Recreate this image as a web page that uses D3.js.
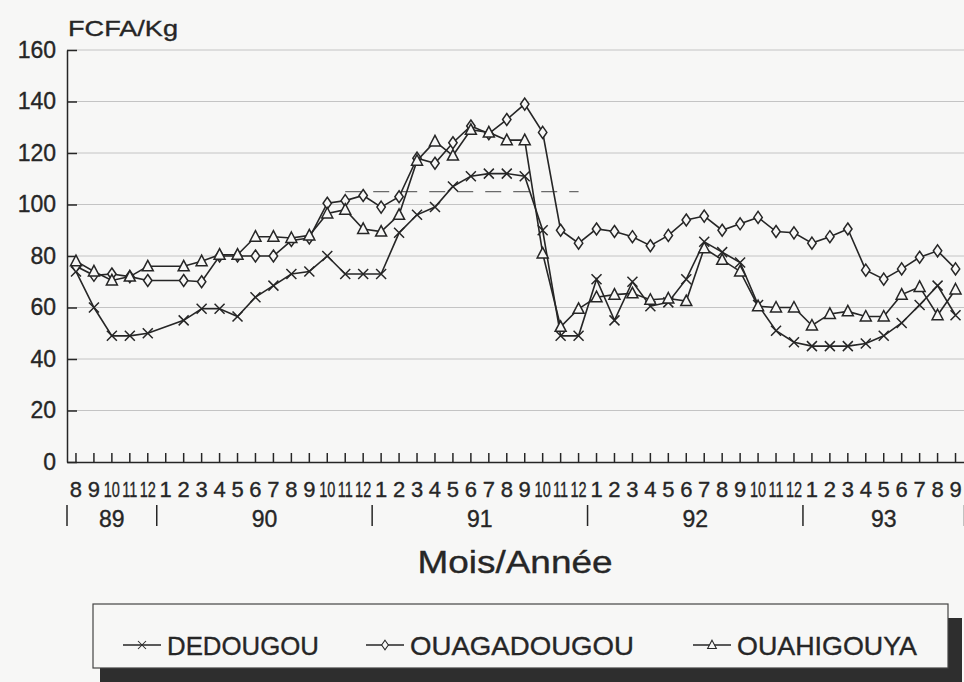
<!DOCTYPE html>
<html>
<head>
<meta charset="utf-8">
<script src="https://cdn.jsdelivr.net/npm/d3@7"></script>
<style>
body { margin: 0; background: #f7f7f6; }
svg { display: block; font-family: "Liberation Sans", Arial, sans-serif; }
svg text { stroke: #262626; stroke-width: 0.35px; }
</style>
</head>
<body>
<svg id="main" width="964" height="682"></svg>
<script>
// months 8/89 .. 9/93, 1/90 is missing in all three series
var monthLabels = ["8","9","10","11","12",
    "1","2","3","4","5","6","7","8","9","10","11","12",
    "1","2","3","4","5","6","7","8","9","10","11","12",
    "1","2","3","4","5","6","7","8","9","10","11","12",
    "1","2","3","4","5","6","7","8","9"];
var yearLabels = ["89", "90", "91", "92", "93"];
var yearLengths = [5, 12, 12, 12, 9];
var yTicks = [0, 20, 40, 60, 80, 100, 120, 140, 160];

var dedougou = [74, 60, 49, 49, 50,
    null, 55, 59.5, 59.5, 56.5, 64, 68.5, 73, 74, 80, 73, 73,
    73, 89, 96, 99, 107, 111, 112, 112, 111, 90, 49, 49,
    71, 55, 70, 60.5, 62, 71, 85.5, 81.5, 77.5, 61, 51, 46.5,
    45, 45, 45, 46, 49, 54, 61, 68.5, 57];
var ouagadougou = [76, 72.5, 73, 72, 70.5,
    null, 70.5, 70, 80, 80, 80, 80, 86, 87, 100.5, 101.5, 103.5,
    99, 103, 118, 116, 124, 130.5, 127.5, 133, 139, 128, 90, 85,
    90.5, 89.5, 87.5, 84, 88, 94, 95.5, 90, 92.5, 95, 89.5, 89,
    85, 87.5, 90.5, 74.5, 71, 75, 79.5, 82, 75];
var ouahigouya = [78, 74, 70.5, 72, 76,
    null, 76, 78, 80.5, 80.5, 87.5, 87.5, 87, 88, 96.5, 98, 90.5,
    89.5, 96, 117, 124.5, 119, 129, 128, 125, 125, 81, 52.5, 59.5,
    64, 65, 65.5, 63, 63.5, 62.5, 83, 78.5, 74, 60.5, 60, 60,
    53, 57.5, 58.5, 56.5, 56.5, 65, 68, 57, 67];

var seriesNames = ["DEDOUGOU", "OUAGADOUGOU", "OUAHIGOUYA"];
var seriesSymbols = ["cross", "diamond", "triangle"];
var seriesValues = [dedougou, ouagadougou, ouahigouya];

// faint dashed line printed across the 91 peak
var refMonths = [15, 28];
var refValue = 105;

var ink = "#262626";
var svg = d3.select('svg#main');

var x = d3.scaleBand().domain(d3.range(monthLabels.length)).range([67, 964.5]);
var y = d3.scaleLinear().domain([0, 160]).range([462, 50]);
var cx = function(i) { return x(i) + x.bandwidth() / 2; };

function markerPath(type) {
    if (type === 'cross') return 'M-5,-5L5,5M-5,5L5,-5';
    if (type === 'diamond') return 'M0,-6L4.2,0L0,6L-4.2,0Z';
    return 'M0,-6L5.5,4.5L-5.5,4.5Z';
}

// grid
svg.append('g')
    .selectAll('line').data(yTicks.filter(function(v) { return v > 0; }))
    .join('line')
    .attr('x1', 67).attr('x2', 964)
    .attr('y1', function(d) { return y(d); }).attr('y2', function(d) { return y(d); })
    .attr('stroke', '#c4c4c4').attr('stroke-width', 1);

svg.append('line')
    .attr('x1', cx(refMonths[0])).attr('x2', cx(refMonths[1]))
    .attr('y1', y(refValue)).attr('y2', y(refValue))
    .attr('stroke', '#6a6a6a').attr('stroke-width', 1.3)
    .attr('stroke-dasharray', '16,12');

// axes
var yAxis = svg.append('g').attr('transform', 'translate(67,0)')
    .call(d3.axisLeft(y).tickValues(yTicks).tickSize(-10).tickSizeOuter(0).tickPadding(11));
yAxis.selectAll('text').attr('font-size', 23).attr('fill', ink);

var xAxis = svg.append('g').attr('transform', 'translate(0,462)')
    .call(d3.axisBottom(x).tickSize(-9).tickSizeOuter(0).tickPadding(19)
        .tickFormat(function(i) { return monthLabels[i]; }));
// two-digit months are squeezed into one month's width, as printed
xAxis.selectAll('text').attr('font-size', 22).attr('fill', ink)
    .filter(function(i) { return monthLabels[i].length > 1; })
    .attr('transform', 'scale(0.66,1)');

svg.selectAll('.domain, .tick line').attr('stroke', ink).attr('stroke-width', 1.5);

// year groups
var yearStarts = [0].concat(Array.from(d3.cumsum(yearLengths)));
var edge = function(k) { return k < monthLabels.length ? x(k) : x(k - 1) + x.bandwidth(); };
svg.append('g').selectAll('line').data(yearStarts).join('line')
    .attr('x1', edge).attr('x2', edge)
    .attr('y1', 505).attr('y2', 526)
    .attr('stroke', ink).attr('stroke-width', 1.5);
svg.append('g').selectAll('text').data(yearLabels).join('text')
    .attr('x', function(d, i) { return (edge(yearStarts[i]) + edge(yearStarts[i + 1])) / 2; })
    .attr('y', 527)
    .attr('text-anchor', 'middle')
    .attr('font-size', 23).attr('fill', ink)
    .text(function(d) { return d; });

svg.append('text')
    .attr('x', 515).attr('y', 573)
    .attr('text-anchor', 'middle')
    .attr('font-size', 31).attr('fill', ink)
    .attr('textLength', 195).attr('lengthAdjust', 'spacingAndGlyphs')
    .text('Mois/Année');

svg.append('text')
    .attr('x', 68).attr('y', 36)
    .attr('font-size', 22).attr('fill', ink)
    .attr('textLength', 110).attr('lengthAdjust', 'spacingAndGlyphs')
    .text('FCFA/Kg');

// series
var line = d3.line()
    .x(function(d) { return cx(d.i); })
    .y(function(d) { return y(d.v); });

seriesValues.forEach(function(vals, s) {
    var pts = vals.map(function(v, i) { return {i: i, v: v}; })
        .filter(function(d) { return d.v !== null; });
    var g = svg.append('g');
    g.append('path').datum(pts)
        .attr('d', line)
        .attr('fill', 'none').attr('stroke', ink).attr('stroke-width', 1.6);
    g.selectAll('path.mk').data(pts).join('path')
        .attr('class', 'mk')
        .attr('transform', function(d) { return 'translate(' + cx(d.i) + ',' + y(d.v) + ')'; })
        .attr('d', markerPath(seriesSymbols[s]))
        .attr('fill', seriesSymbols[s] === 'cross' ? 'none' : '#f7f7f6')
        .attr('stroke', ink).attr('stroke-width', 1.5);
});

// legend
var legendX = [123, 366, 693];
var legendW = [152, 224, 180];
svg.append('rect').attr('x', 100).attr('y', 618).attr('width', 862).attr('height', 64).attr('fill', '#2e2e2e');
svg.append('rect').attr('x', 93).attr('y', 604).attr('width', 855).attr('height', 64)
    .attr('fill', '#f7f7f6').attr('stroke', '#444').attr('stroke-width', 1.2);

var lg = svg.append('g').selectAll('g').data(seriesNames).join('g')
    .attr('transform', function(d, i) { return 'translate(' + legendX[i] + ',645)'; });
lg.append('line').attr('x1', 0).attr('x2', 38).attr('y1', 0).attr('y2', 0)
    .attr('stroke', ink).attr('stroke-width', 1.3);
lg.append('path')
    .attr('transform', 'translate(19,0) scale(0.8)')
    .attr('d', function(d, i) { return markerPath(seriesSymbols[i]); })
    .attr('fill', function(d, i) { return seriesSymbols[i] === 'cross' ? 'none' : '#f7f7f6'; })
    .attr('stroke', ink).attr('stroke-width', 1.3);
lg.append('text')
    .attr('x', 44).attr('y', 10)
    .attr('font-size', 26).attr('fill', ink)
    .attr('textLength', function(d, i) { return legendW[i]; })
    .attr('lengthAdjust', 'spacingAndGlyphs')
    .text(function(d) { return d; });
</script>
</body>
</html>
